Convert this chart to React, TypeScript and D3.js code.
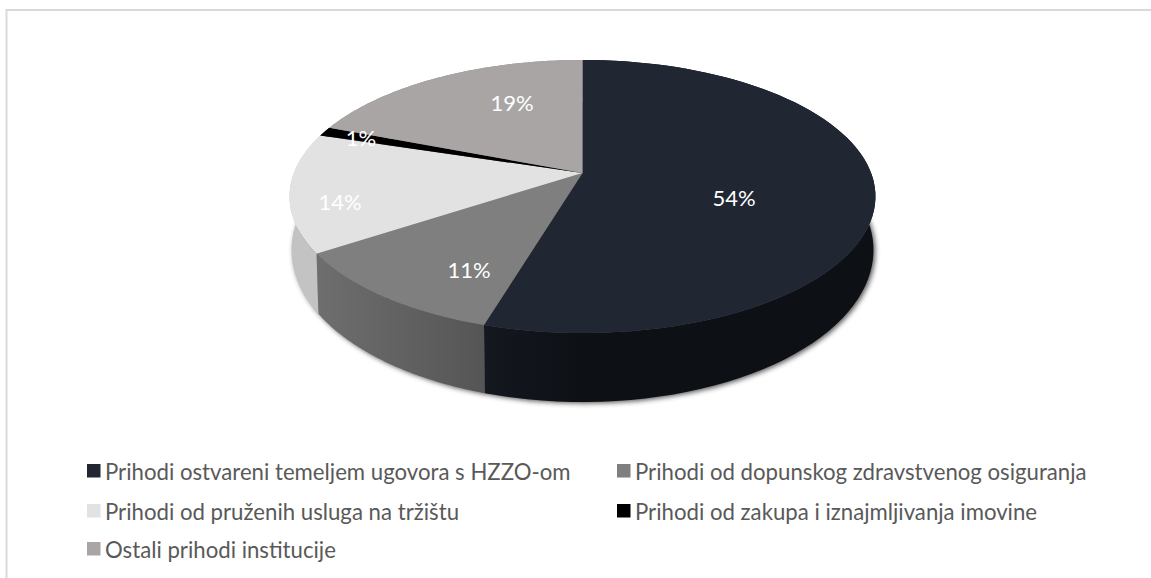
import React from "react";
import * as d3 from "d3";

const categories = [
  "Prihodi ostvareni temeljem ugovora s HZZO-om",
  "Prihodi od dopunskog zdravstvenog osiguranja",
  "Prihodi od pruženih usluga na tržištu",
  "Prihodi od zakupa i iznajmljivanja imovine",
  "Ostali prihodi institucije",
];
const values = [54.6, 11.1, 14.1, 1.1, 19.1];
const labels = ["54%", "11%", "14%", "1%", "19%"];
const colors = ["#202733", "#7f7f7f", "#e2e2e2", "#000000", "#a9a5a5"];
const wallFrom = ["#0d1015", "#555555", "#c4c3c4", "#000000", "#8a8787"];
const wallTo = ["#14181f", "#6e6e6e", "#c8c7c8", "#000000", "#8a8787"];
const labelPos: [number, number][] = [[734, 197], [469, 269], [340, 201], [361, 137], [512, 102]];
const legendPos: [number, number][] = [[87, 471], [617, 471], [87, 511], [617, 511], [87, 549]];

const CX = 582.5, CY = 173, C = 288.6, B = 132.5, K = 0.172;
const TOP = { x: 583, y: 196.5, rx: 293, ry: 136.5 };
const BOT = { x: 583, y: 250, rx: 291, ry: 152 };

function project(theta: number): [number, number] {
  const s = -Math.cos(theta);
  const w = 1 - K * s;
  return [CX + (C * Math.sin(theta)) / w, CY + (B * s) / w];
}
function projectBottom(theta: number): [number, number] {
  const [x, y] = project(theta);
  return [BOT.x + ((x - TOP.x) / TOP.rx) * BOT.rx, BOT.y + ((y - TOP.y) / TOP.ry) * BOT.ry];
}
function samples(a: number, b: number): number[] {
  return d3.range(0, 81).map((i) => a + ((b - a) * i) / 80);
}

export default function App() {
  const arcs = d3.pie<number>().sort(null)(values);
  const line = d3.line();
  return (
    <svg width={1151} height={578} style={{ position: "absolute", left: 0, top: 0 }}>
      <defs>
        <filter id="sh" x="-10%" y="-10%" width="120%" height="120%">
          <feGaussianBlur stdDeviation="2.5" />
        </filter>
        {arcs.map((d, i) => {
          const a = projectBottom(d.startAngle), b = projectBottom(d.endAngle);
          return (
            <linearGradient key={i} id={`w${i}`} gradientUnits="userSpaceOnUse" x1={a[0]} x2={b[0]} y1={0} y2={0}>
              <stop offset="0" stopColor={wallFrom[i]} />
              <stop offset="1" stopColor={wallTo[i]} />
            </linearGradient>
          );
        })}
      </defs>
      <rect x={0} y={0} width={1151} height={578} fill="#fff" />
      <path d="M6.5 578V10H1151" fill="none" stroke="#d9d9d9" strokeWidth={2} />
      <path
        d={(line(samples(0, Math.PI * 2).map(projectBottom)) ?? "") + "Z"}
        transform="translate(2 1.5)"
        fill="#333"
        opacity={0.8}
        filter="url(#sh)"
      />
      {arcs.map((d, i) => {
        const top = samples(d.startAngle, d.endAngle).map(project);
        const bot = samples(d.startAngle, d.endAngle).map(projectBottom).reverse();
        return <path key={i} d={(line([...top, ...bot]) ?? "") + "Z"} fill={`url(#w${i})`} />;
      })}
      {arcs.map((d, i) => {
        const rim = samples(d.startAngle, d.endAngle).map(project);
        return <path key={i} d={(line([[CX, CY], ...rim]) ?? "") + "Z"} fill={colors[i]} />;
      })}
      {labels.map((t, i) => (
        <text key={i} x={labelPos[i][0]} y={labelPos[i][1]} textAnchor="middle" dominantBaseline="central" fontFamily="Lato" fontSize={22} fill="#fff">
          {t}
        </text>
      ))}
      {categories.map((t, i) => (
        <g key={i}>
          <rect x={legendPos[i][0]} y={legendPos[i][1] - 7} width={13.5} height={13.5} fill={colors[i]} />
          <text x={legendPos[i][0] + 18} y={legendPos[i][1]} dominantBaseline="central" fontFamily="Lato" fontSize={22.2} fill="#595959">
            {t}
          </text>
        </g>
      ))}
    </svg>
  );
}
